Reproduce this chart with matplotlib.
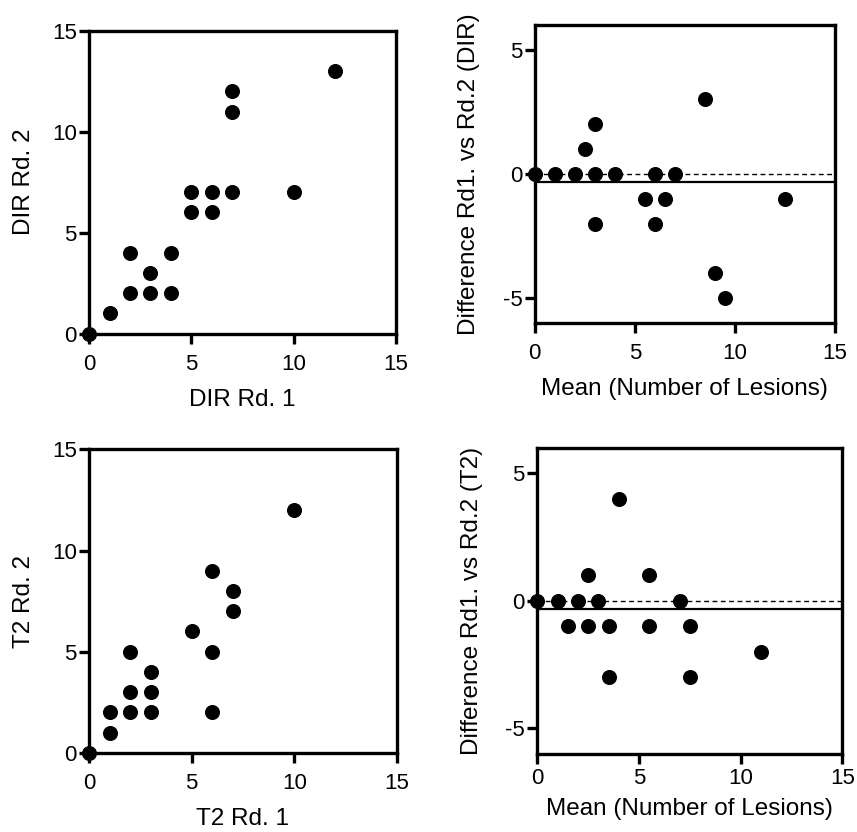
import numpy as np
import matplotlib
matplotlib.use("Agg")
import matplotlib.pyplot as plt

plt.rcParams["font.family"] = ["Liberation Sans", "DejaVu Sans"]
plt.rcParams["font.size"] = 17.5
plt.rcParams["axes.unicode_minus"] = False

# DIR reader 1 vs reader 2
dir_rd1 = [0, 1, 2, 2, 3, 3, 4, 4, 5, 5, 6, 6, 7, 7, 7, 10, 12]
dir_rd2 = [0, 1, 2, 4, 2, 3, 2, 4, 6, 7, 6, 7, 7, 11, 12, 7, 13]

# T2 reader 1 vs reader 2
t2_rd1 = [0, 1, 1, 2, 2, 2, 3, 3, 3, 5, 6, 6, 6, 7, 7, 10]
t2_rd2 = [0, 1, 2, 2, 3, 5, 2, 3, 4, 6, 2, 5, 9, 7, 8, 12]

# bias lines (mean difference)
dir_bias = -0.33
t2_bias = -0.31

lw = 2.4
dot = 9.8
tick_fs = 16

fig = plt.figure(figsize=(8.57, 8.32), dpi=100)


def style_axes(ax, xpad=7):
    for s in ax.spines.values():
        s.set_linewidth(lw)
    ax.tick_params(width=lw, length=7.5, direction="out", labelsize=tick_fs)
    ax.tick_params(axis="x", pad=xpad)
    ax.tick_params(axis="y", pad=1.5)


def scatter_panel(ax, x, y, xlabel, ylabel):
    ax.plot(x, y, "o", color="black", ms=dot, clip_on=False, zorder=5)
    ax.set_xlim(0, 15)
    ax.set_ylim(0, 15)
    ax.set_xticks([0, 5, 10, 15])
    ax.set_yticks([0, 5, 10, 15])
    ax.set_xlabel(xlabel, labelpad=10)
    ax.set_ylabel(ylabel, labelpad=12)
    style_axes(ax)


def bland_altman_panel(ax, r1, r2, bias, ylabel, xpad=7, xlabelpad=10):
    r1 = np.array(r1, dtype=float)
    r2 = np.array(r2, dtype=float)
    mean = (r1 + r2) / 2
    diff = r1 - r2
    ax.axhline(0, color="black", lw=1.0, ls=(0, (3.5, 2.5)), zorder=1)
    ax.axhline(bias, color="black", lw=1.6, zorder=1)
    ax.plot(mean, diff, "o", color="black", ms=dot, clip_on=False, zorder=5)
    ax.set_xlim(0, 15)
    ax.set_ylim(-6, 6)
    ax.set_xticks([0, 5, 10, 15])
    ax.set_yticks([-5, 0, 5])
    ax.set_xlabel("Mean (Number of Lesions)", labelpad=xlabelpad)
    ax.set_ylabel(ylabel, labelpad=16)
    style_axes(ax, xpad)


ax1 = fig.add_axes([0.104, 0.599, 0.358, 0.364])
scatter_panel(ax1, dir_rd1, dir_rd2, "DIR Rd. 1", "DIR Rd. 2")

ax2 = fig.add_axes([0.624, 0.612, 0.350, 0.358])
bland_altman_panel(ax2, dir_rd1, dir_rd2, dir_bias, "Difference Rd1. vs Rd.2 (DIR)")

ax3 = fig.add_axes([0.104, 0.095, 0.359, 0.365])
scatter_panel(ax3, t2_rd1, t2_rd2, "T2 Rd. 1", "T2 Rd. 2")

ax4 = fig.add_axes([0.627, 0.094, 0.356, 0.368])
bland_altman_panel(ax4, t2_rd1, t2_rd2, t2_bias, "Difference Rd1. vs Rd.2 (T2)",
                   xpad=3, xlabelpad=6)

fig.savefig("out.png", dpi=100)
